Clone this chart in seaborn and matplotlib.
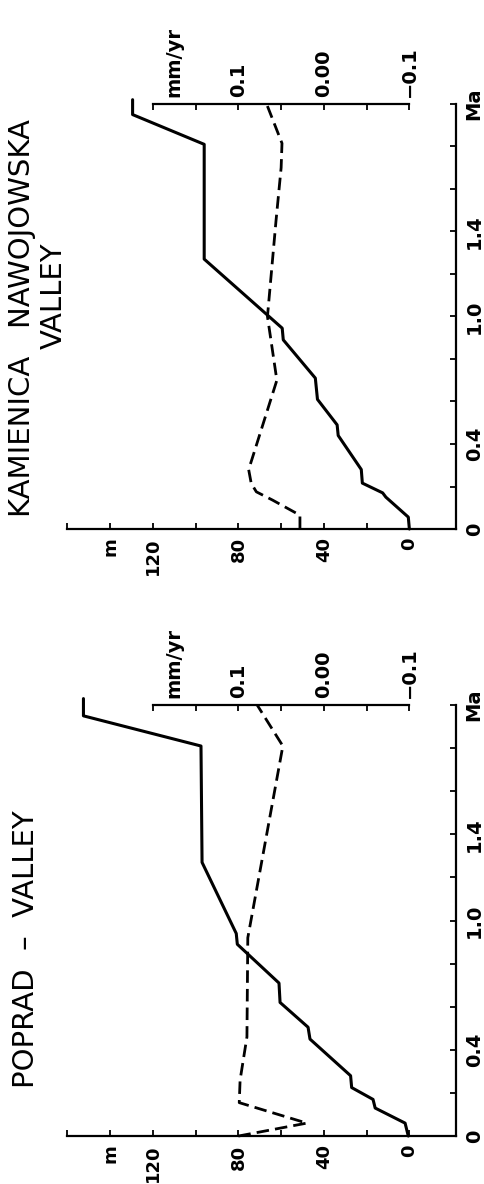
import matplotlib
matplotlib.use("Agg")
import matplotlib.pyplot as plt
import pandas as pd
import seaborn as sns

# ---------------- data ----------------
# Kamienica Nawojowska valley: terrace elevation (m) vs age (Ma)
kam_age = [0.0, 0.056, 0.15, 0.17, 0.216, 0.28, 0.44, 0.49, 0.61, 0.71, 0.89, 0.945, 1.27, 1.81, 1.95, 2.02]
kam_elev = [0.0, 0.5, 11.0, 12.5, 22.0, 22.5, 33.3, 33.8, 43.0, 44.0, 59.0, 59.5, 96.0, 96.0, 129.5, 129.5]
# Kamienica Nawojowska valley: incision rate (mm/yr) vs age (Ma)
kam_rate_age = [0.0, 0.065, 0.136, 0.175, 0.215, 0.28, 0.33, 0.70, 1.0, 1.45, 1.70, 1.815, 2.0]
kam_rate = [0.028, 0.028, 0.060, 0.079, 0.085, 0.088, 0.084, 0.055, 0.066, 0.056, 0.050, 0.049, 0.067]

# Poprad valley
pop_age = [0.0, 0.06, 0.13, 0.17, 0.225, 0.28, 0.45, 0.505, 0.62, 0.71, 0.89, 0.94, 1.27, 1.81, 1.95, 2.03]
pop_elev = [0.5, 2.0, 16.0, 17.0, 27.0, 27.5, 46.5, 47.4, 60.5, 61.0, 80.5, 81.0, 97.0, 97.5, 152.5, 152.5]
pop_rate_age = [0.0, 0.06, 0.155, 0.26, 0.46, 0.92, 1.81, 2.0]
pop_rate = [0.100, 0.020, 0.099, 0.098, 0.090, 0.089, 0.048, 0.078]

# ticks / labels
m_ticks = [0, 20, 40, 60, 80, 100, 120, 140, 160]
m_labels = ["0", "", "40", "", "80", "", "120", "m", ""]
ma_ticks = [0.0, 0.2, 0.4, 0.6, 0.8, 1.0, 1.2, 1.4, 1.6, 1.8, 2.0]
ma_labels = ["0", "", "0.4", "", "", "1.0", "", "1.4", "", "", "Ma"]
rate_ticks = [-0.1, -0.05, 0.0, 0.05, 0.1, 0.15, 0.2]
rate_labels = ["\u22120.1", "", "0.00", "", "0.1", "", ""]

titles_kam = ["KAMIENICA   NAWOJOWSKA", "VALLEY"]
titles_pop = ["POPRAD  \u2013  VALLEY"]

# ---------------- style ----------------
sns.set_theme(style="ticks", rc={
    "axes.edgecolor": "black", "xtick.color": "black", "ytick.color": "black",
    "text.color": "black", "axes.labelcolor": "black", "axes.linewidth": 1.5,
})
plt.rcParams["font.family"] = ["DejaVu Sans"]

fig = plt.figure(figsize=(4.85, 11.84), dpi=100)

LW_AX = 1.6
TICK_FS = 14
M_FS = 13


def make_panel(rect, age, elev, rate_age, rate):
    ax = fig.add_axes(rect)
    ax.set_facecolor("none")
    df_e = pd.DataFrame({"m": elev, "Ma": age})
    df_r = pd.DataFrame({"r": rate, "Ma": rate_age})

    sns.lineplot(data=df_e, x="m", y="Ma", sort=False, estimator=None, orient="y",
                 ax=ax, color="black", linewidth=2.2, clip_on=False)
    ax.set_xlim(160, -22)
    ax.set_ylim(0, 2.0)

    ax2 = ax.twiny()
    sns.lineplot(data=df_r, x="r", y="Ma", sort=False, estimator=None, orient="y",
                 ax=ax2, color="black", linewidth=2.0, linestyle=(0, (4.5, 2.2)),
                 clip_on=False)
    ax2.set_xlim((160 - 40) / 400, (-22 - 40) / 400)
    ax2.set_ylim(0, 2.0)

    # spines
    ax.spines["left"].set_visible(False)
    ax.spines["top"].set_visible(False)
    ax.spines["bottom"].set_linewidth(LW_AX)
    ax.spines["right"].set_linewidth(LW_AX)
    for s in ["left", "bottom", "right"]:
        ax2.spines[s].set_visible(False)
    ax2.spines["top"].set_linewidth(LW_AX)
    ax2.spines["top"].set_bounds(-0.1, 0.2)

    # m axis (bottom)
    ax.set_xticks(m_ticks)
    ax.set_xticklabels(m_labels, fontweight="bold")
    ax.tick_params(axis="x", direction="in", length=4, width=1.3, pad=6,
                   labelsize=M_FS, labelrotation=90, bottom=True, top=False)
    # Ma axis (right)
    ax.yaxis.tick_right()
    ax.set_yticks(ma_ticks)
    ax.set_yticklabels(ma_labels, fontweight="bold")
    ax.tick_params(axis="y", direction="in", length=4, width=1.3, pad=6,
                   labelsize=TICK_FS, labelrotation=90, right=True, left=False,
                   labelright=True, labelleft=False)
    for lab in ax.get_yticklabels():
        lab.set_va("center")
    # mm/yr axis (top)
    ax2.set_xticks(rate_ticks)
    ax2.set_xticklabels(rate_labels, fontweight="bold")
    ax2.tick_params(axis="x", direction="in", length=4, width=1.3, pad=5,
                    labelsize=TICK_FS, labelrotation=90, top=True, bottom=False,
                    labeltop=True, labelbottom=False)
    ax2.annotate("mm/yr", xy=(0.176, 1.0), xycoords=("data", "axes fraction"),
                 xytext=(0, 5), textcoords="offset points", rotation=90,
                 ha="center", va="bottom", fontsize=TICK_FS, fontweight="bold")
    ax.set_xlabel("")
    ax.set_ylabel("")
    ax2.set_xlabel("")
    ax2.set_ylabel("")
    return ax, ax2


make_panel([0.139, 0.5532, 0.802, 0.3590], kam_age, kam_elev, kam_rate_age, kam_rate)
make_panel([0.139, 0.0405, 0.802, 0.3640], pop_age, pop_elev, pop_rate_age, pop_rate)

TITLE_FS = 21
fig.text(22 / 485, 1 - 318 / 1184, titles_kam[0], rotation=90, ha="center", va="center",
         fontsize=TITLE_FS)
fig.text(54 / 485, 1 - 296 / 1184, titles_kam[1], rotation=90, ha="center", va="center",
         fontsize=TITLE_FS)
fig.text(26 / 485, 1 - 949 / 1184, titles_pop[0], rotation=90, ha="center", va="center",
         fontsize=TITLE_FS)

fig.savefig("out.png", dpi=100, facecolor="white")
